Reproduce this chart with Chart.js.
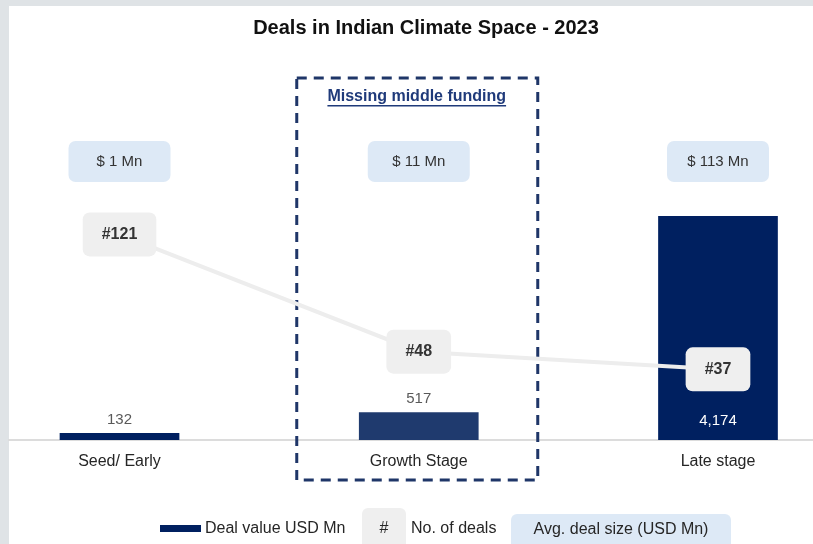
<!DOCTYPE html>
<html>
<head>
<meta charset="utf-8">
<title>Deals in Indian Climate Space - 2023</title>
<script src="https://cdn.jsdelivr.net/npm/chart.js@4.4.1/dist/chart.umd.min.js"></script>
<style>
  html, body { margin: 0; padding: 0; background: #dfe3e6; }
  #wrap { width: 813px; height: 544px; }
</style>
</head>
<body>
<div id="wrap"><canvas id="dealsChart" width="813" height="544"></canvas></div>
<script>
// data
const categories = ['Seed/ Early', 'Growth Stage', 'Late stage'];
const dealValues = [132, 517, 4174];          // deal value, USD Mn
const dealCounts = [121, 48, 37];             // no. of deals
const avgDealSize = ['$ 1 Mn', '$ 11 Mn', '$ 113 Mn'];
const barColors = ['#002060', '#1f3a6e', '#002060'];

const FONT = "'Liberation Sans', Arial, sans-serif";

function box(ctx, x, y, w, h, r, fill) {
    ctx.beginPath();
    ctx.roundRect(x, y, w, h, r);
    ctx.fillStyle = fill;
    ctx.fill();
}

function text(ctx, str, x, y, font, color, align) {
    ctx.font = font;
    ctx.fillStyle = color;
    ctx.textAlign = align || 'center';
    ctx.textBaseline = 'middle';
    ctx.fillText(str, x, y);
}

// everything that is not a bar or the line: card, title, boxes, legend
const decorations = {
    id: 'decorations',
    beforeDraw(chart) {
        const ctx = chart.ctx;
        ctx.save();
        ctx.fillStyle = '#dfe3e6';
        ctx.fillRect(0, 0, chart.width, chart.height);
        ctx.fillStyle = '#ffffff';
        ctx.fillRect(9, 6, chart.width - 9, chart.height - 6);
        ctx.restore();
    },
    beforeDatasetsDraw(chart) {
        const ctx = chart.ctx;
        const xc = chart.scales.x.getPixelForValue(1);
        ctx.save();
        // dashed frame round the growth stage
        ctx.setLineDash([10, 7]);
        ctx.lineWidth = 3;
        ctx.strokeStyle = '#1f3668';
        ctx.strokeRect(xc - 122, 78, 241, 402);
        ctx.setLineDash([]);

        text(ctx, 'Missing middle funding', xc - 2, 97, 'bold 16px ' + FONT, '#1f3a7a');
        const w = ctx.measureText('Missing middle funding').width;
        ctx.fillStyle = '#1f3a7a';
        ctx.fillRect(xc - 2 - w / 2, 105, w, 1.5);

        // avg deal size boxes
        avgDealSize.forEach((label, i) => {
            const cx = chart.scales.x.getPixelForValue(i);
            box(ctx, cx - 51, 141, 102, 41, 7, '#dde9f6');
            text(ctx, label, cx, 162, '15px ' + FONT, '#333333');
        });
        ctx.restore();
    },
    afterDatasetsDraw(chart) {
        const ctx = chart.ctx;
        ctx.save();

        // bar value labels
        const bars = chart.getDatasetMeta(0).data;
        bars.forEach((bar, i) => {
            const label = dealValues[i].toLocaleString('en-US');
            if (bar.base - bar.y > 60) {
                text(ctx, label, bar.x, bar.base - 19, '15px ' + FONT, '#ffffff');
            } else {
                text(ctx, label, bar.x, bar.y - 13, '15px ' + FONT, '#595959');
            }
        });

        // deal count boxes on the line
        const pts = chart.getDatasetMeta(1).data;
        pts.forEach((p, i) => {
            const label = '#' + dealCounts[i];
            ctx.font = 'bold 16px ' + FONT;
            const w = ctx.measureText(label).width + 38;
            box(ctx, p.x - w / 2, p.y - 22, w, 44, 7, '#efefef');
            text(ctx, label, p.x, p.y, 'bold 16px ' + FONT, '#333333');
        });

        // title
        text(ctx, 'Deals in Indian Climate Space - 2023', 426, 28, 'bold 20px ' + FONT, '#111111');

        // legend
        ctx.fillStyle = '#002060';
        ctx.fillRect(160, 525, 41, 7);
        text(ctx, 'Deal value USD Mn', 205, 529, '16px ' + FONT, '#262626', 'left');
        box(ctx, 362, 508, 44, 44, 6, '#efefef');
        text(ctx, '#', 384, 529, '16px ' + FONT, '#262626');
        text(ctx, 'No. of deals', 411, 529, '16px ' + FONT, '#262626', 'left');
        box(ctx, 511, 514, 220, 40, 6, '#dde9f6');
        text(ctx, 'Avg. deal size (USD Mn)', 621, 530, '16px ' + FONT, '#262626');

        ctx.restore();
    }
};

const ctx = document.getElementById('dealsChart');
new Chart(ctx, {
    type: 'bar',
    data: {
        datasets: [{
            type: 'bar',
            label: 'Deal value USD Mn',
            data: dealValues.map((v, i) => ({ x: i, y: v })),
            backgroundColor: barColors,
            categoryPercentage: 1,
            barPercentage: 0.4,
            yAxisID: 'y',
            order: 2
        }, {
            type: 'line',
            label: 'No. of deals',
            data: dealCounts.map((v, i) => ({ x: i, y: v })),
            borderColor: '#ededed',
            borderWidth: 4,
            pointRadius: 0,
            tension: 0,
            yAxisID: 'y1',
            order: 1
        }]
    },
    options: {
        responsive: false,
        animation: false,
        devicePixelRatio: 1,
        layout: { padding: { top: 130, left: 9, right: 0, bottom: 0 } },
        plugins: {
            legend: { display: false },
            tooltip: { enabled: false }
        },
        scales: {
            x: {
                type: 'linear',
                position: 'bottom',
                offset: false,
                min: -0.3693,
                max: 2.3175,
                afterBuildTicks: (scale) => {
                    scale.ticks = categories.map((c, i) => ({ value: i }));
                },
                afterFit: (scale) => { scale.height = 104; },
                grid: { display: false, drawTicks: false, offset: false },
                border: { display: true, color: '#dcdcdc', width: 2 },
                ticks: {
                    autoSkip: false,
                    maxRotation: 0,
                    padding: 12,
                    color: '#262626',
                    font: { family: FONT, size: 16 },
                    callback: (v) => categories[v]
                }
            },
            y: { display: false, min: 0, max: 5777 },
            y1: { display: false, min: -7, max: 186 }
        }
    },
    plugins: [decorations]
});
</script>
</body>
</html>
